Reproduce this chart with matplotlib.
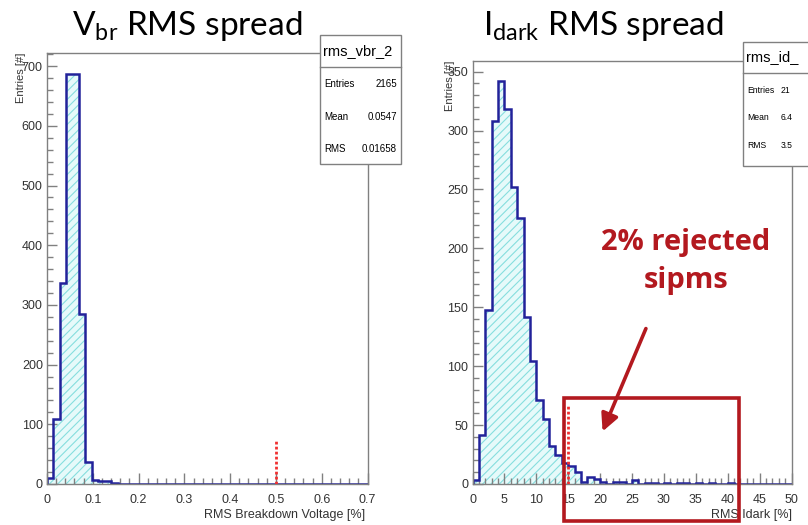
import matplotlib
matplotlib.use('Agg')
import matplotlib.pyplot as plt
import numpy as np
from matplotlib.patches import Rectangle, FancyArrowPatch
from matplotlib.ticker import MultipleLocator

# ---------------- data ----------------
vbr_edges = np.linspace(0.0, 0.7, 51)
vbr_counts = [10, 109, 337, 686, 686, 285, 37, 6, 5, 5, 2] + [0] * 39
vbr_cut = 0.5
vbr_cut_height = 74

idark_edges = np.linspace(0.0, 50.0, 51)
idark_counts = [3, 42, 148, 308, 342, 318, 252, 226, 142, 104, 71, 55, 32, 25,
                18, 15, 10, 2, 6, 4, 2, 0, 2, 2, 0, 3,
                0, 1, 1, 0, 1, 0, 1, 1, 0, 1, 0, 1, 0, 0, 1, 0, 0, 0, 0, 0, 0, 0, 0, 0]
idark_cut = 15
idark_cut_height = 68

vbr_stats = [("Entries", "2165"), ("Mean", "0.0547"), ("RMS", "0.01658")]
idark_stats = [("Entries", "21"), ("Mean", "6.4"), ("RMS", "3.5")]

W, H = 808, 525
fig = plt.figure(figsize=(W / 100, H / 100), dpi=100)
fig.patch.set_facecolor('white')

def fx(px):
    return px / W

def fy(py):
    return 1 - py / H

ROOTFONT = 'Liberation Sans'
TITLEFONT = 'Lato'
GRAY = '#808080'
LINE = '#22229a'
FILL = '#e6fafa'
HATCH = '#86dede'
plt.rcParams['hatch.linewidth'] = 0.8


def draw_panel(ax, edges, counts, xlim, ylim, xmaj, xmin, ymaj, ymin,
               cut, cut_h, xfmt):
    ax.stairs(counts, edges, baseline=0, fill=True, facecolor=FILL,
              edgecolor=HATCH, hatch='////', linewidth=0, zorder=1)
    ax.stairs(counts, edges, baseline=0, fill=False, color=LINE,
              linewidth=1.8, zorder=2)
    ax.plot([cut, cut], [0, cut_h], color='#f03030', lw=2.0,
            linestyle=(0, (1, 0.8)), zorder=3)
    ax.set_xlim(*xlim)
    ax.set_ylim(*ylim)
    ax.xaxis.set_major_locator(MultipleLocator(xmaj))
    ax.xaxis.set_minor_locator(MultipleLocator(xmin))
    ax.yaxis.set_major_locator(MultipleLocator(ymaj))
    ax.yaxis.set_minor_locator(MultipleLocator(ymin))
    ax.tick_params(axis='x', which='major', direction='in', length=8,
                   width=1, color=GRAY, pad=7, labelsize=9, labelcolor='#333333')
    ax.tick_params(axis='x', which='minor', direction='in', length=4.5,
                   width=1, color=GRAY)
    ax.tick_params(axis='y', which='major', direction='in', length=7,
                   width=1, color=GRAY, pad=3, labelsize=9, labelcolor='#333333')
    ax.tick_params(axis='y', which='minor', direction='in', length=4,
                   width=1, color=GRAY)
    ax.tick_params(top=False, right=False, which='both')
    for lab in ax.get_xticklabels() + ax.get_yticklabels():
        lab.set_fontfamily(ROOTFONT)
    ax.xaxis.set_major_formatter(plt.FuncFormatter(xfmt))
    ax.yaxis.set_major_formatter(plt.FuncFormatter(lambda v, p: f"{int(round(v))}"))
    for s in ax.spines.values():
        s.set_color(GRAY)
        s.set_linewidth(1)
    ax.set_facecolor('white')


# Left panel
axL = fig.add_axes([fx(47), fy(484), (367.5 - 47) / W, (484 - 53) / H])
draw_panel(axL, vbr_edges, vbr_counts, (0, 0.7), (0, 722), 0.1, 0.02, 100, 20,
           vbr_cut, vbr_cut_height,
           lambda v, p: "0" if abs(v) < 1e-9 else f"{v:.1f}")

# Right panel
axR = fig.add_axes([fx(472.5), fy(484), (791.5 - 472.5) / W, (484 - 61) / H])
draw_panel(axR, idark_edges, idark_counts, (0, 50), (0, 359), 5, 1, 50, 10,
           idark_cut, idark_cut_height,
           lambda v, p: f"{int(round(v))}")

# axis titles (ROOT style)
fig.text(fx(365), fy(515), "RMS Breakdown Voltage [%]", ha='right', va='center',
         fontsize=9, family=ROOTFONT, color='#333333')
fig.text(fx(792), fy(515), "RMS Idark [%]", ha='right', va='center',
         fontsize=9, family=ROOTFONT, color='#333333')
fig.text(fx(21), fy(53), "Entries [#]", ha='center', va='top', rotation=90,
         fontsize=8, family=ROOTFONT, color='#333333')
fig.text(fx(450), fy(61), "Entries [#]", ha='center', va='top', rotation=90,
         fontsize=8, family=ROOTFONT, color='#333333')

# Titles
fig.text(fx(72), fy(35), r"V$_{\mathregular{br}}$ RMS spread", ha='left',
         va='baseline', fontsize=24, family=TITLEFONT, color='black')
fig.text(fx(483), fy(35), r"I$_{\mathregular{dark}}$ RMS spread", ha='left',
         va='baseline', fontsize=24, family=TITLEFONT, color='black')


# Stats boxes
def stats_box(x0, y0, x1, y1, ysep, header, rows, rowy, xlab, xval, val_ha, fs):
    fig.patches.append(Rectangle((fx(x0), fy(y1)), fx(x1) - fx(x0), fy(y0) - fy(y1),
                                 transform=fig.transFigure, facecolor='white',
                                 edgecolor=GRAY, lw=1, zorder=5))
    fig.lines.append(plt.Line2D([fx(x0), fx(x1)], [fy(ysep), fy(ysep)],
                                transform=fig.transFigure, color=GRAY, lw=1,
                                zorder=6))
    fig.text(fx(x0 + 3), fy((y0 + ysep) / 2), header, ha='left', va='center',
             fontsize=10.5, family=ROOTFONT, color='black', zorder=7)
    for (k, v), yy in zip(rows, rowy):
        fig.text(fx(xlab), fy(yy), k, ha='left', va='center', fontsize=fs,
                 family=ROOTFONT, color='black', zorder=7)
        fig.text(fx(xval), fy(yy), v, ha=val_ha, va='center', fontsize=fs,
                 family=ROOTFONT, color='black', zorder=7)


stats_box(320, 35, 401, 164, 67, "rms_vbr_2", vbr_stats, [84, 117, 149],
          324, 397, 'right', 7)
stats_box(743, 42, 840, 166, 73, "rms_id_", idark_stats, [90, 117, 145],
          747, 781, 'left', 6.2)

# Red annotation box, arrow and text
RED = '#b3191f'
fig.patches.append(Rectangle((fx(563.5), fy(521)), fx(738.5) - fx(563.5),
                             fy(397.5) - fy(521), transform=fig.transFigure,
                             facecolor='none', edgecolor=RED, lw=2.6, zorder=8))
arr = FancyArrowPatch((fx(647), fy(326)), (fx(601.5), fy(434)),
                      transform=fig.transFigure, arrowstyle='-|>',
                      mutation_scale=26, lw=2.6, color=RED, zorder=8)
fig.patches.append(arr)
fig.text(fx(686), fy(250), "2% rejected", ha='center', va='baseline',
         fontsize=21, fontweight='bold', family='Open Sans', color=RED, zorder=8)
fig.text(fx(686), fy(288), "sipms", ha='center', va='baseline',
         fontsize=21, fontweight='bold', family='Open Sans', color=RED, zorder=8)

fig.savefig('out.png', dpi=100)
